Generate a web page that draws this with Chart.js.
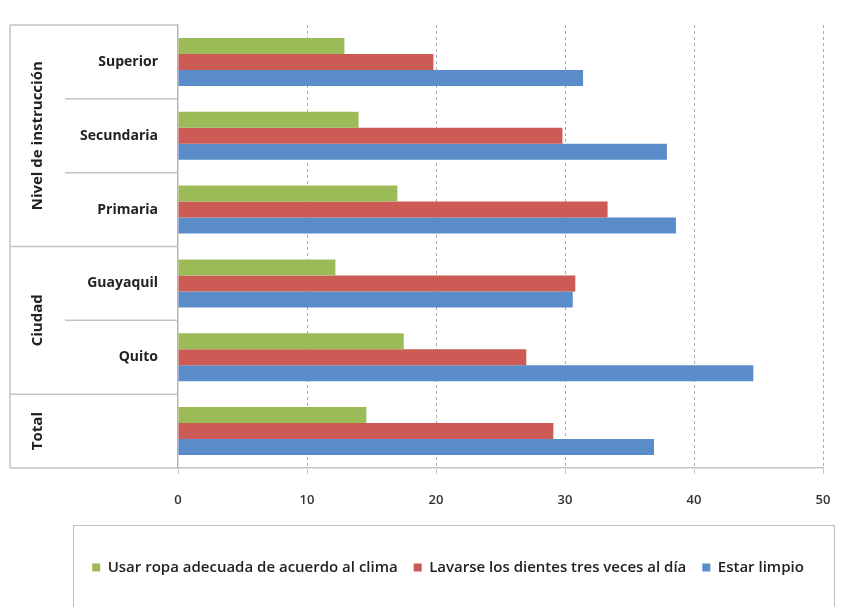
<!DOCTYPE html>
<html>
<head>
<meta charset="utf-8">
<script src="https://cdn.jsdelivr.net/npm/chart.js@4.4.1/dist/chart.umd.min.js"></script>
<style>
  html, body { margin: 0; padding: 0; background: #fff; }
</style>
</head>
<body>
<canvas id="grafico" width="844" height="607"></canvas>
<script>
// categorías (de arriba hacia abajo) y grupos del eje vertical
const categorias = ["Superior", "Secundaria", "Primaria", "Guayaquil", "Quito", ""];
const grupoNombres = ["Nivel de instrucción", "Ciudad", "Total"];
const grupoTamanos = [3, 2, 1];

const series = [
    "Usar ropa adecuada de acuerdo al clima",
    "Lavarse los dientes tres veces al día",
    "Estar limpio"
];
const ropaAdecuada  = [12.9, 14.0, 17.0, 12.2, 17.5, 14.6];
const dientes       = [19.8, 29.8, 33.3, 30.8, 27.0, 29.1];
const estarLimpio   = [31.4, 37.9, 38.6, 30.6, 44.6, 36.9];

const ejeMin = 0, ejeMax = 50, ejePaso = 10;

const colores = ["#9bbb59", "#cc5a55", "#5a8cca"];
const lineaGris = "#c4c4c4";

Chart.defaults.font.family = "'Open Sans', sans-serif";
Chart.defaults.color = "#222";

// líneas y etiquetas de grupo a la izquierda del gráfico
const marcoEtiquetas = {
    id: "marcoEtiquetas",
    afterDraw(chart) {
        const { ctx, chartArea } = chart;
        const y = chart.scales.y;
        const izq = 10, sub = 65;
        ctx.save();
        ctx.strokeStyle = lineaGris;
        ctx.lineWidth = 1.5;

        ctx.beginPath();
        ctx.moveTo(izq, chartArea.top);
        ctx.lineTo(chartArea.left, chartArea.top);
        ctx.moveTo(izq, chartArea.bottom);
        ctx.lineTo(chartArea.left, chartArea.bottom);
        ctx.moveTo(izq, chartArea.top);
        ctx.lineTo(izq, chartArea.bottom);
        ctx.stroke();

        // separadores entre categorías
        let finGrupo = [];
        let acc = 0;
        grupoTamanos.forEach(n => { acc += n; finGrupo.push(acc - 1); });
        for (let i = 0; i < categorias.length - 1; i++) {
            const ys = (y.getPixelForValue(i) + y.getPixelForValue(i + 1)) / 2;
            const x0 = finGrupo.includes(i) ? izq : sub;
            ctx.beginPath();
            ctx.moveTo(x0, ys);
            ctx.lineTo(chartArea.left, ys);
            ctx.stroke();
        }

        // nombres de grupo, girados
        ctx.fillStyle = "#222";
        ctx.font = "bold 15px 'Open Sans', sans-serif";
        ctx.textAlign = "center";
        ctx.textBaseline = "middle";
        let inicio = 0;
        grupoNombres.forEach((nombre, g) => {
            const fin = inicio + grupoTamanos[g] - 1;
            const yc = (y.getPixelForValue(inicio) + y.getPixelForValue(fin)) / 2;
            ctx.save();
            ctx.translate(38, yc);
            ctx.rotate(-Math.PI / 2);
            ctx.fillText(nombre, 0, 0);
            ctx.restore();
            inicio = fin + 1;
        });

        // recuadro de la leyenda
        ctx.strokeStyle = "#bdbdbd";
        ctx.lineWidth = 1;
        ctx.strokeRect(73.5, 525.5, 761, 100);
        ctx.restore();
    }
};

new Chart(document.getElementById("grafico"), {
    type: "bar",
    data: {
        labels: categorias,
        datasets: [
            { label: series[0], data: ropaAdecuada, backgroundColor: colores[0] },
            { label: series[1], data: dientes,      backgroundColor: colores[1] },
            { label: series[2], data: estarLimpio,  backgroundColor: colores[2] }
        ]
    },
    options: {
        indexAxis: "y",
        responsive: false,
        animation: false,
        devicePixelRatio: 1,
        categoryPercentage: 0.65,
        barPercentage: 1.0,
        layout: { padding: { left: 73, right: 21, top: 25, bottom: 22 } },
        scales: {
            x: {
                min: ejeMin,
                max: ejeMax,
                afterFit: s => { s.height = 76; s.paddingRight = 0; s.paddingLeft = 0; },
                ticks: {
                    stepSize: ejePaso,
                    padding: 18,
                    color: "#333",
                    font: { size: 13, weight: "600" }
                },
                grid: {
                    color: c => c.index === 0 ? "rgba(0,0,0,0)" : "#a3adbd",
                    lineWidth: 1,
                    tickLength: 6,
                    tickColor: "#c8c8c8"
                },
                border: { display: true, color: lineaGris, width: 1.5, dash: [3, 3] }
            },
            y: {
                afterFit: s => { s.width = 105; },
                grid: { display: false },
                border: { display: true, color: "#b5b5b5", width: 1.5 },
                ticks: {
                    padding: 12,
                    color: "#222",
                    font: { size: 14, weight: "bold" }
                }
            }
        },
        plugins: {
            legend: {
                position: "bottom",
                labels: {
                    boxWidth: 8,
                    boxHeight: 8,
                    padding: 16,
                    color: "#222",
                    font: { size: 15, weight: "600" }
                }
            },
            tooltip: { enabled: false }
        }
    },
    plugins: [marcoEtiquetas]
});
</script>
</body>
</html>
